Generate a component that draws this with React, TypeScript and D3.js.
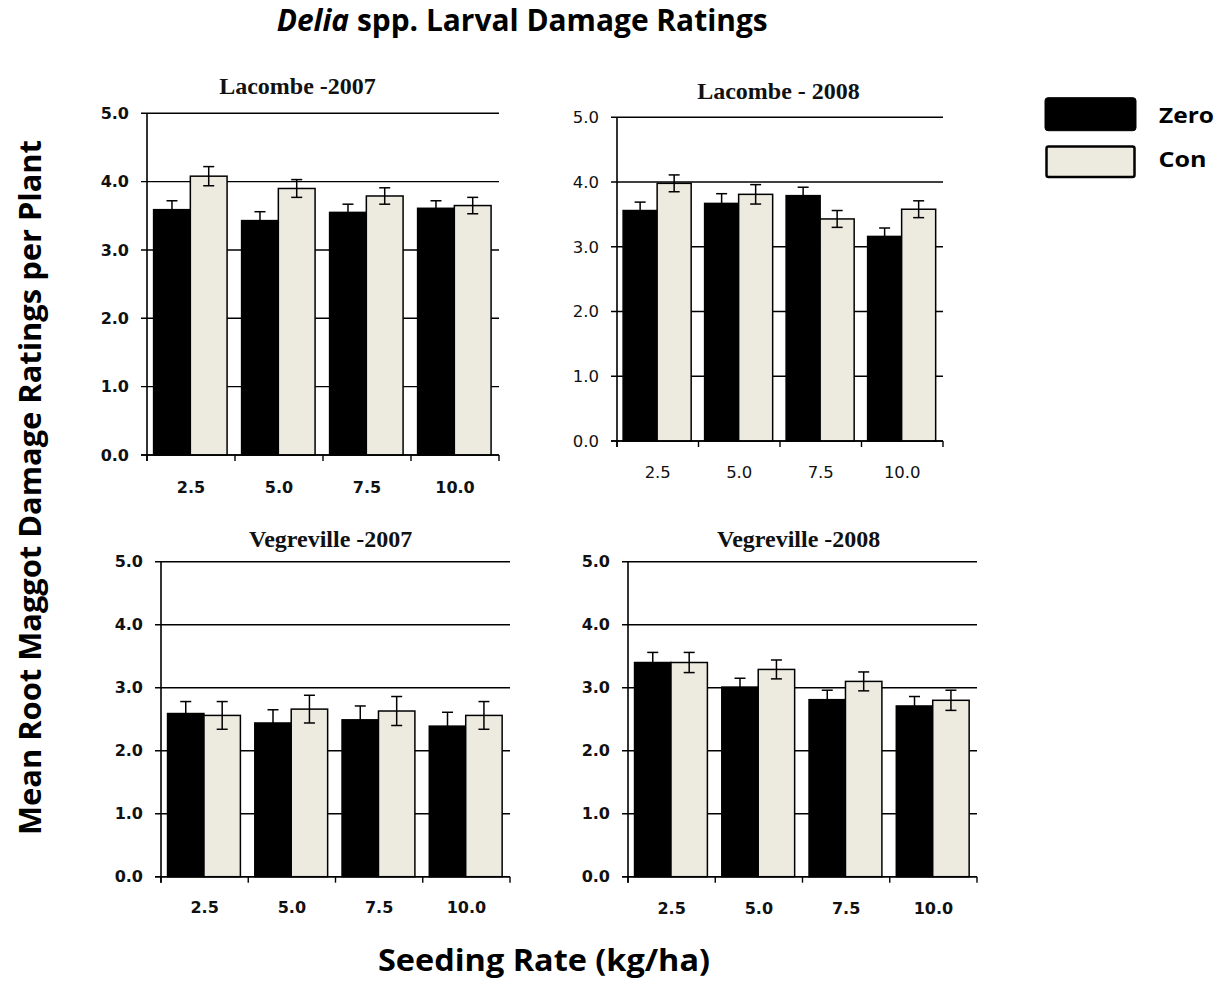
import React from "react";
import * as d3 from "d3";

// ---------- data ----------
const rates = ["2.5", "5.0", "7.5", "10.0"];
const seriesNames = ["Zero", "Con"];
const yTicks = [0, 1, 2, 3, 4, 5];
const panelTitles = ["Lacombe -2007", "Lacombe - 2008", "Vegreville -2007", "Vegreville -2008"];

const lacombe2007Zero = [3.59, 3.43, 3.55, 3.61];
const lacombe2007ZeroSE = [0.13, 0.13, 0.12, 0.11];
const lacombe2007Con = [4.08, 3.9, 3.79, 3.65];
const lacombe2007ConSE = [0.14, 0.13, 0.12, 0.12];

const lacombe2008Zero = [3.56, 3.67, 3.79, 3.16];
const lacombe2008ZeroSE = [0.13, 0.15, 0.13, 0.13];
const lacombe2008Con = [3.98, 3.81, 3.43, 3.58];
const lacombe2008ConSE = [0.13, 0.15, 0.13, 0.13];

const vegreville2007Zero = [2.59, 2.44, 2.49, 2.39];
const vegreville2007ZeroSE = [0.19, 0.21, 0.22, 0.22];
const vegreville2007Con = [2.56, 2.66, 2.63, 2.56];
const vegreville2007ConSE = [0.22, 0.22, 0.23, 0.22];

const vegreville2008Zero = [3.4, 3.01, 2.81, 2.71];
const vegreville2008ZeroSE = [0.16, 0.14, 0.15, 0.15];
const vegreville2008Con = [3.4, 3.29, 3.1, 2.8];
const vegreville2008ConSE = [0.16, 0.15, 0.15, 0.16];

const panelValues = [
  [lacombe2007Zero, lacombe2007Con],
  [lacombe2008Zero, lacombe2008Con],
  [vegreville2007Zero, vegreville2007Con],
  [vegreville2008Zero, vegreville2008Con],
];
const panelErrors = [
  [lacombe2007ZeroSE, lacombe2007ConSE],
  [lacombe2008ZeroSE, lacombe2008ConSE],
  [vegreville2007ZeroSE, vegreville2007ConSE],
  [vegreville2008ZeroSE, vegreville2008ConSE],
];

// ---------- layout / style ----------
const layouts = [
  { x0: 147, x1: 499, yTop: 113.3, yBot: 455, tx: 297.5, ty: 94, xl: 493, bold: true },
  { x0: 617, x1: 943, yTop: 117.3, yBot: 441, tx: 778.5, ty: 99, xl: 478, bold: false },
  { x0: 161, x1: 510, yTop: 561.7, yBot: 876.7, tx: 330.7, ty: 546.5, xl: 913, bold: true },
  { x0: 628, x1: 977, yTop: 561.7, yBot: 876.7, tx: 798.7, ty: 546.5, xl: 913.5, bold: true },
];
const fills = ["#000000", "#edeae0"];
const tickFont = "'DejaVu Sans', sans-serif";
const titleFont = "'Liberation Serif', 'Times New Roman', serif";
const sansFont = "'Open Sans', sans-serif";

function Panel({ idx }: { idx: number }) {
  const L = layouts[idx];
  const x = d3.scaleBand<string>().domain(rates).range([L.x0, L.x1]).padding(0);
  const bw = x.bandwidth();
  const inner = d3
    .scaleBand<string>()
    .domain(seriesNames)
    .range([bw * 0.075, bw * 0.91])
    .padding(0);
  const y = d3.scaleLinear().domain([0, 5]).range([L.yBot, L.yTop]);
  const fmt = d3.format(".1f");
  const boundaries = [...rates.map((r) => x(r) as number), L.x1];
  const tickSize = L.bold ? 16 : 16.5;
  return (
    <g>
      <text
        x={L.tx}
        y={L.ty}
        textAnchor="middle"
        fontFamily={titleFont}
        fontWeight="bold"
        fontSize={24}
        fill="#111"
      >
        {panelTitles[idx]}
      </text>
      {/* gridlines */}
      {yTicks.map((t) => (
        <line
          key={"g" + t}
          x1={L.x0 - 6}
          x2={L.x1}
          y1={y(t)}
          y2={y(t)}
          stroke="#000"
          strokeWidth={1.4}
        />
      ))}
      {/* y tick labels */}
      {yTicks.map((t) => (
        <text
          key={"yl" + t}
          x={L.x0 - 18}
          y={y(t)}
          dy="0.36em"
          textAnchor="end"
          fontFamily={tickFont}
          fontWeight={L.bold ? "bold" : "normal"}
          fontSize={tickSize}
          fill="#111"
        >
          {fmt(t)}
        </text>
      ))}
      {/* bars */}
      {rates.map((r, i) =>
        seriesNames.map((s, k) => {
          const v = panelValues[idx][k][i];
          const bx = (x(r) as number) + (inner(s) as number);
          return (
            <rect
              key={"b" + r + s}
              x={bx}
              y={y(v)}
              width={inner.bandwidth()}
              height={y(0) - y(v)}
              fill={fills[k]}
              stroke="#000"
              strokeWidth={1.5}
            />
          );
        })
      )}
      {/* error bars */}
      {rates.map((r, i) =>
        seriesNames.map((s, k) => {
          const v = panelValues[idx][k][i];
          const e = panelErrors[idx][k][i];
          const cx = (x(r) as number) + (inner(s) as number) + inner.bandwidth() / 2;
          return (
            <g key={"e" + r + s} stroke="#000" strokeWidth={1.5}>
              <line x1={cx} x2={cx} y1={y(v + e)} y2={y(v - e)} />
              <line x1={cx - 5.5} x2={cx + 5.5} y1={y(v + e)} y2={y(v + e)} />
              <line x1={cx - 5.5} x2={cx + 5.5} y1={y(v - e)} y2={y(v - e)} />
            </g>
          );
        })
      )}
      {/* axes */}
      <line x1={L.x0} x2={L.x0} y1={y(5)} y2={y(0) + 6} stroke="#000" strokeWidth={1.6} />
      <line x1={L.x0 - 6} x2={L.x1} y1={y(0)} y2={y(0)} stroke="#000" strokeWidth={1.6} />
      {boundaries.map((bx, j) => (
        <line key={"xt" + j} x1={bx} x2={bx} y1={y(0)} y2={y(0) + 6} stroke="#000" strokeWidth={1.4} />
      ))}
      {rates.map((r) => (
        <text
          key={"xl" + r}
          x={(x(r) as number) + bw / 2}
          y={L.xl}
          textAnchor="middle"
          fontFamily={tickFont}
          fontWeight={L.bold ? "bold" : "normal"}
          fontSize={tickSize}
          fill="#111"
        >
          {r}
        </text>
      ))}
    </g>
  );
}

export default function App() {
  return (
    <svg
      width={1220}
      height={983}
      style={{ position: "absolute", left: 0, top: 0, background: "#fff" }}
    >
      <rect x={0} y={0} width={1220} height={983} fill="#fff" />
      {/* main title */}
      <text
        x={276.7}
        y={31}
        fontFamily={sansFont}
        fontWeight="bold"
        fontSize={30}
        textLength={491}
        lengthAdjust="spacingAndGlyphs"
        fill="#000"
      >
        <tspan fontStyle="italic">Delia</tspan>
        <tspan> spp. Larval Damage Ratings</tspan>
      </text>
      {/* y axis title */}
      <text
        transform="translate(41,487.5) rotate(-90)"
        textAnchor="middle"
        fontFamily={sansFont}
        fontWeight="bold"
        fontSize={30}
        textLength={695}
        lengthAdjust="spacingAndGlyphs"
        fill="#000"
      >
        Mean Root Maggot Damage Ratings per Plant
      </text>
      {/* x axis title */}
      <text
        x={378}
        y={971}
        fontFamily={sansFont}
        fontWeight="bold"
        fontSize={30}
        textLength={332}
        lengthAdjust="spacingAndGlyphs"
        fill="#000"
      >
        Seeding Rate (kg/ha)
      </text>
      {/* legend */}
      <rect x={1045} y={97.7} width={91} height={33} rx={3} fill={fills[0]} stroke="#000" strokeWidth={1} />
      <rect x={1046.5} y={146.5} width={88} height={30.5} rx={2} fill={fills[1]} stroke="#000" strokeWidth={2.5} />
      <text
        x={1159}
        y={123}
        fontFamily={sansFont}
        fontWeight="bold"
        fontSize={21}
        textLength={55}
        lengthAdjust="spacingAndGlyphs"
        fill="#000"
      >
        {seriesNames[0]}
      </text>
      <text
        x={1158.5}
        y={167}
        fontFamily={sansFont}
        fontWeight="bold"
        fontSize={21}
        textLength={48}
        lengthAdjust="spacingAndGlyphs"
        fill="#000"
      >
        {seriesNames[1]}
      </text>
      {layouts.map((_, i) => (
        <Panel key={i} idx={i} />
      ))}
    </svg>
  );
}
